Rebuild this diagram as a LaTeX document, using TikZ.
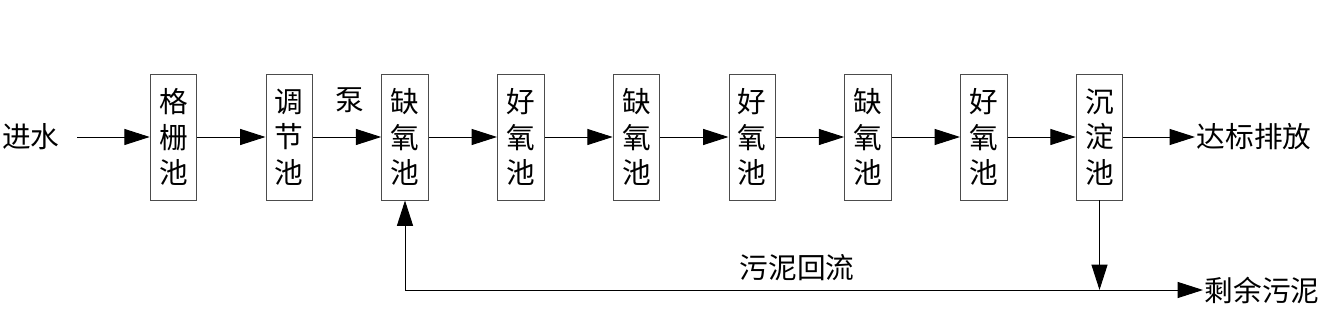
\documentclass[tikz,border=0pt]{standalone}
\usepackage{fontspec}
\newfontfamily\cjk{Noto Sans CJK SC}
\usepackage{tikz}
\usetikzlibrary{arrows.meta}

\begin{document}
\begin{tikzpicture}[x=0.75pt,y=0.75pt,line width=0.7pt,font=\cjk\fontsize{21.5}{26.5}\selectfont,
  pool/.style={draw=black!70,align=center,minimum width=35pt,minimum height=94.5pt,inner sep=0pt},
  lbl/.style={inner sep=1pt},
  >={Triangle[length=19pt,width=12pt]}]
\useasboundingbox (0,0) rectangle (1332,320);
\node[lbl] (in) at (31,183) {进水};
\node[pool] (p0) at (173.5,183) {格\\栅\\池};
\node[pool] (p1) at (289.3,183) {调\\节\\池};
\node[pool] (p2) at (405,183) {缺\\氧\\池};
\node[pool] (p3) at (520.8,183) {好\\氧\\池};
\node[pool] (p4) at (636.5,183) {缺\\氧\\池};
\node[pool] (p5) at (752.3,183) {好\\氧\\池};
\node[pool] (p6) at (868,183) {缺\\氧\\池};
\node[pool] (p7) at (983.8,183) {好\\氧\\池};
\node[pool] (p8) at (1099.5,183) {沉\\淀\\池};
\node[lbl,anchor=west] (out) at (1195,183) {达标排放};
\node[lbl,anchor=west] (rest) at (1203,30) {剩余污泥};
\node[lbl] (pump) at (350,220) {泵};
\node[lbl] (ret) at (797,52) {污泥回流};
\coordinate (j) at (1099.5,30);
\draw[->,shorten <=12pt] (in)--(p0);
\foreach \i [evaluate=\i as \k using int(\i+1)] in {0,...,7} {\draw[->] (p\i)--(p\k);}
\draw[->] (p8)--(out);
\draw[->] (p8)--(j);
\draw[->] (j)--(rest);
\draw[->] (j)-|(p2);
\end{tikzpicture}
\end{document}
